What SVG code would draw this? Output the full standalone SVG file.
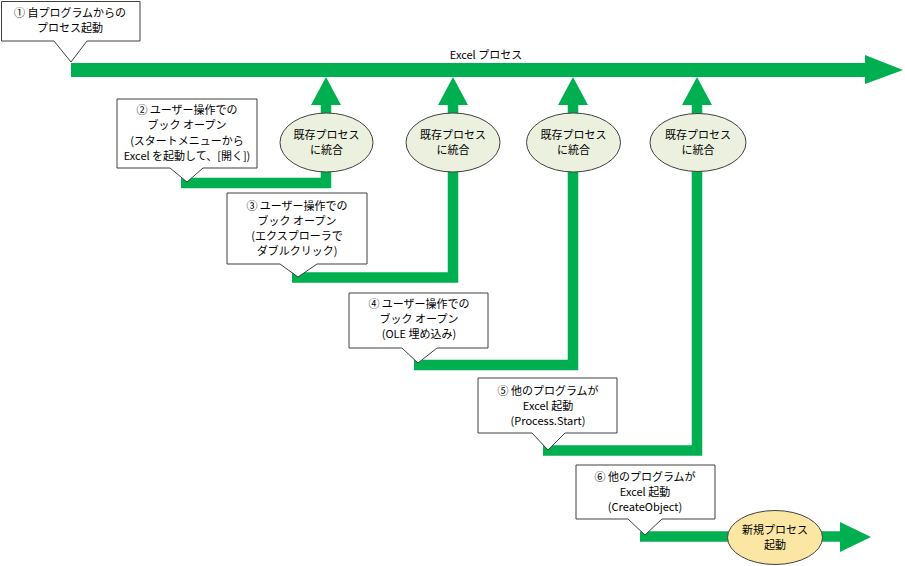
<svg xmlns="http://www.w3.org/2000/svg" width="905" height="566" viewBox="0 0 905 566">
<style>
text{font-family:"Noto Sans CJK JP","Liberation Sans",sans-serif;font-size:11px;fill:#000;text-anchor:middle}
.co{fill:#fff;stroke:#404040;stroke-width:1}
.el{fill:#ebf1de;stroke:#404040;stroke-width:1}
.nw{fill:#fbe7a3;stroke:#404040;stroke-width:1}
.ln{fill:none;stroke:#00b050;stroke-width:10.5;stroke-linejoin:miter}
.ah{fill:#00b050}
</style>
<rect width="905" height="566" fill="#fff"/>
<g id="connectors">
<rect x="71" y="63" width="796" height="14" class="ah"/>
<polygon points="865,55 865,84 903,70" class="ah"/>
<path d="M181,183 H326 V104" class="ln"/>
<path d="M292,277.5 H453 V104" class="ln"/>
<path d="M414,365 H573 V104" class="ln"/>
<path d="M543,450.5 H697 V104" class="ln"/>
<path d="M640,536.5 H842" class="ln"/>
<polygon points="311,105 341,105 326,77" class="ah"/>
<polygon points="438,105 468,105 453,77" class="ah"/>
<polygon points="558,105 588,105 573,77" class="ah"/>
<polygon points="682,105 712,105 697,77" class="ah"/>
<polygon points="840,522 840,552 871,537" class="ah"/>
</g>
<text x="486" y="59">Excel プロセス</text>
<g id="c1">
<path class="co" d="M1.5,1.5 H140 V41 H87 L71,62 L54,41 H1.5 Z"/>
<text x="70" y="16.5">① 自プログラムからの</text>
<text x="70" y="31.5">プロセス起動</text>
</g>
<g id="c2">
<path class="co" d="M117,99 H257 V168 H203 L187,182 L170,168 H117 Z"/>
<text x="187" y="114">② ユーザー操作での</text>
<text x="187" y="129">ブック オープン</text>
<text x="187" y="144.5">(スタートメニューから</text>
<text x="187" y="160">Excel を起動して、[開く])</text>
</g>
<g id="c3">
<path class="co" d="M227,193 H367 V264 H317 L298,277 L280,264 H227 Z"/>
<text x="297" y="209.5">③ ユーザー操作での</text>
<text x="297" y="224.5">ブック オープン</text>
<text x="297" y="239.5">(エクスプローラで</text>
<text x="297" y="254.5">ダブルクリック)</text>
</g>
<g id="c4">
<path class="co" d="M349,293 H488 V348 H437 L418,363 L402,348 H349 Z"/>
<text x="419" y="308">④ ユーザー操作での</text>
<text x="419" y="323">ブック オープン</text>
<text x="419" y="338">(OLE 埋め込み)</text>
</g>
<g id="c5">
<path class="co" d="M478,378 H617 V433 H565 L548,450 L532,433 H478 Z"/>
<text x="548" y="394.5">⑤ 他のプログラムが</text>
<text x="548" y="409.5">Excel 起動</text>
<text x="548" y="424.5">(Process.Start)</text>
</g>
<g id="c6">
<path class="co" d="M576,465 H715 V519 H662 L645,535 L628,519 H576 Z"/>
<text x="645" y="481">⑥ 他のプログラムが</text>
<text x="645" y="496">Excel 起動</text>
<text x="645" y="511">(CreateObject)</text>
</g>
<g id="e1">
<ellipse class="el" cx="326.5" cy="142.5" rx="46.5" ry="29.5"/>
<text x="326.5" y="138.5">既存プロセス</text>
<text x="326.5" y="153.5">に統合</text>
</g>
<g id="e2">
<ellipse class="el" cx="453" cy="142.5" rx="47" ry="29.5"/>
<text x="453" y="138.5">既存プロセス</text>
<text x="453" y="153.5">に統合</text>
</g>
<g id="e3">
<ellipse class="el" cx="573.5" cy="142.5" rx="47" ry="29.5"/>
<text x="573.5" y="138.5">既存プロセス</text>
<text x="573.5" y="153.5">に統合</text>
</g>
<g id="e4">
<ellipse class="el" cx="698" cy="142.5" rx="48" ry="29"/>
<text x="698" y="138.5">既存プロセス</text>
<text x="698" y="153.5">に統合</text>
</g>
<g id="e5">
<ellipse class="nw" cx="775" cy="537.5" rx="47.5" ry="27"/>
<text x="775" y="533.5">新規プロセス</text>
<text x="775" y="548.5">起動</text>
</g>
</svg>
